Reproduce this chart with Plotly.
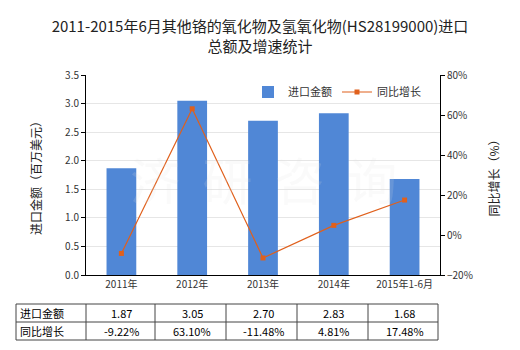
import plotly.graph_objects as go

# Import value (million USD) and year-on-year growth (%) by period
periods = ["2011年", "2012年", "2013年", "2014年", "2015年1-6月"]
import_value = [1.87, 3.05, 2.70, 2.83, 1.68]
yoy_growth = [-9.22, 63.10, -11.48, 4.81, 17.48]

row_labels = ["进口金额", "同比增长"]
value_text = ["%.2f" % v for v in import_value]
growth_text = ["%.2f%%" % g for g in yoy_growth]

FONT = "Noto Sans CJK SC, Microsoft YaHei, sans-serif"
BAR_COLOR = "#5087D6"
LINE_COLOR = "#E0601C"
TEXT_COLOR = "#333333"

fig = go.Figure()
fig.add_trace(go.Bar(
    x=periods, y=import_value, name="进口金额",
    marker=dict(color=BAR_COLOR, line=dict(width=0)),
    width=0.42, yaxis="y",
))
fig.add_trace(go.Scatter(
    x=periods, y=yoy_growth, name="同比增长", yaxis="y2",
    mode="lines+markers",
    line=dict(color=LINE_COLOR, width=1.2),
    marker=dict(symbol="square", size=5, color=LINE_COLOR),
))

# plot area geometry in pixels (used for table placement)
L, R, T, B = 86, 440, 75, 275
W, H = R - L, B - T

def px_x(p):
    return (p - L) / W

def px_y(p):
    return (B - p) / H

annotations = []
shapes = []

# faint watermark
annotations.append(dict(
    text="济  研  咨  询", xref="paper", yref="paper",
    x=px_x(263), y=px_y(140), showarrow=False,
    font=dict(family=FONT, size=50, color="rgba(225,225,225,0.16)"),
))

# data table under the chart
row_y = [313, 331]
for i, lab in enumerate(row_labels):
    annotations.append(dict(
        text=lab, xref="paper", yref="paper", x=px_x(18), y=px_y(row_y[i]),
        xanchor="left", yanchor="middle", showarrow=False,
        font=dict(family=FONT, size=11, color="#000000"),
    ))
for j, p in enumerate(periods):
    for i, txt in enumerate([value_text[j], growth_text[j]]):
        annotations.append(dict(
            text=txt, xref="x", yref="paper", x=p, y=px_y(row_y[i]),
            xanchor="center", yanchor="middle", showarrow=False,
            font=dict(family=FONT, size=11, color="#000000"),
        ))

line_style = dict(color="#444444", width=1)
for yy in [304, 322, 340]:
    shapes.append(dict(type="line", xref="paper", yref="paper",
                       x0=px_x(16), x1=px_x(438), y0=px_y(yy), y1=px_y(yy),
                       line=line_style))
for xx in [16, 86, 155, 226, 297, 368, 438]:
    shapes.append(dict(type="line", xref="paper", yref="paper",
                       x0=px_x(xx), x1=px_x(xx), y0=px_y(304), y1=px_y(340),
                       line=line_style))

fig.update_layout(
    width=520, height=350,
    margin=dict(l=L, r=520 - R, t=T, b=350 - B),
    paper_bgcolor="white", plot_bgcolor="white",
    font=dict(family=FONT, size=11, color=TEXT_COLOR),
    title=dict(
        text="2011-2015年6月其他铬的氧化物及氢氧化物(HS28199000)进口<br>总额及增速统计",
        x=0.5, xanchor="center", yref="container", y=1 - 32 / 350, yanchor="middle",
        font=dict(family=FONT, size=15, color="#222222"),
    ),
    xaxis=dict(
        type="category", range=[-0.5, 4.5],
        showline=True, linecolor="#000000", linewidth=1,
        ticks="", showgrid=False,
        tickfont=dict(size=10, color=TEXT_COLOR),
    ),
    yaxis=dict(
        range=[0, 3.5], dtick=0.5, tickformat=".1f",
        showline=True, linecolor="#000000", linewidth=1,
        ticks="outside", ticklen=4, tickcolor="#000000",
        showgrid=True, gridcolor="#E6E6E6", gridwidth=1,
        zeroline=False,
        tickfont=dict(size=10, color=TEXT_COLOR),
        title=dict(text="进口金额（百万美元）", standoff=20,
                   font=dict(family=FONT, size=12, color="#222222")),
    ),
    yaxis2=dict(
        range=[-20, 80], dtick=20, ticksuffix="%",
        overlaying="y", side="right",
        showline=True, linecolor="#000000", linewidth=1,
        ticks="outside", ticklen=4, tickcolor="#000000",
        showgrid=False, zeroline=False,
        tickfont=dict(size=10, color=TEXT_COLOR),
        title=dict(text="同比增长（%）", standoff=18,
                   font=dict(family=FONT, size=12, color="#222222")),
    ),
    legend=dict(
        orientation="h", x=px_x(248), y=px_y(92),
        xanchor="left", yanchor="middle",
        bgcolor="rgba(0,0,0,0)",
        font=dict(family=FONT, size=11, color=TEXT_COLOR),
    ),
    bargap=0.5,
    showlegend=True,
    annotations=annotations,
    shapes=shapes,
)

fig.write_html("out.html")
